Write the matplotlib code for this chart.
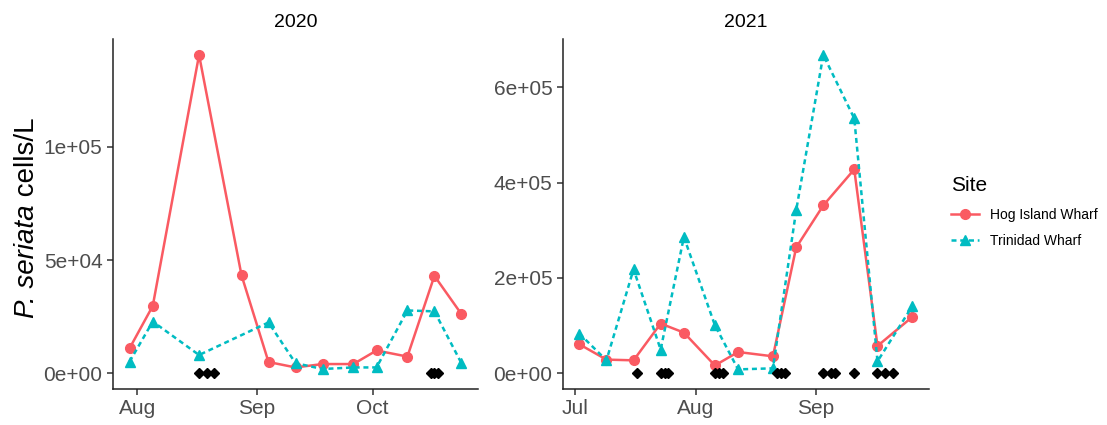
import numpy as np
import matplotlib
matplotlib.use("Agg")
import matplotlib.pyplot as plt
import matplotlib.dates as mdates
from matplotlib.lines import Line2D

plt.rcParams['font.family'] = ['Liberation Sans', 'DejaVu Sans']

# ---- data ----
hog_dates_2020 = np.array(['2020-07-30', '2020-08-05', '2020-08-17', '2020-08-28', '2020-09-04', '2020-09-11',
                           '2020-09-18', '2020-09-26', '2020-10-02', '2020-10-10', '2020-10-17', '2020-10-24'],
                          dtype='datetime64[D]')
hog_vals_2020 = [11000, 29700, 140700, 43300, 4900, 2500, 4000, 4000, 10000, 7300, 43000, 26100]

trin_dates_2020 = np.array(['2020-07-30', '2020-08-05', '2020-08-17', '2020-09-04', '2020-09-11', '2020-09-18',
                            '2020-09-26', '2020-10-02', '2020-10-10', '2020-10-17', '2020-10-24'],
                           dtype='datetime64[D]')
trin_vals_2020 = [5100, 22800, 8000, 22400, 4400, 1800, 2500, 2500, 27700, 27300, 4400]

toxin_dates_2020 = np.array(['2020-08-17', '2020-08-19', '2020-08-21', '2020-10-16', '2020-10-17', '2020-10-18'],
                            dtype='datetime64[D]')

dates_2021 = np.array(['2021-07-02', '2021-07-09', '2021-07-16', '2021-07-23', '2021-07-29', '2021-08-06',
                       '2021-08-12', '2021-08-21', '2021-08-27', '2021-09-03', '2021-09-11', '2021-09-17',
                       '2021-09-26'], dtype='datetime64[D]')
hog_vals_2021 = [60500, 28300, 26800, 104000, 85000, 16000, 44300, 35200, 263700, 352000, 427700, 57000, 118000]
trin_vals_2021 = [83000, 26800, 218000, 49400, 285700, 100600, 7800, 10000, 341800, 668000, 534700, 24700, 140700]

toxin_dates_2021 = np.array(['2021-07-17', '2021-07-23', '2021-07-24', '2021-07-25', '2021-08-06', '2021-08-07',
                             '2021-08-08', '2021-08-22', '2021-08-23', '2021-08-24', '2021-09-03', '2021-09-05',
                             '2021-09-06', '2021-09-11', '2021-09-17', '2021-09-19', '2021-09-21'],
                            dtype='datetime64[D]')

sites = ['Hog Island Wharf', 'Trinidad Wharf']
red = '#FA5A62'
teal = '#00BCC2'
tick_col = '#4D4D4D'
dash = (0, (2.0, 1.5))

fig = plt.figure(figsize=(11.07, 4.25), dpi=100)
ax1 = fig.add_axes([0.1021, 0.0847, 0.3297, 0.8235])
ax2 = fig.add_axes([0.5083, 0.0847, 0.3309, 0.8235])


def panel(ax, title, hd, hv, td, tv, toxd, ystep):
    ax.plot(hd, hv, color=red, lw=1.8, marker='o', ms=7, zorder=3)
    ax.plot(td, tv, color=teal, lw=1.8, ls=dash, marker='^', ms=7.5, zorder=4)
    ax.plot(toxd, np.zeros(len(toxd)), ls='none', marker='D', ms=5.5, color='black', zorder=5)

    # ggplot-style 5% expansion
    alld = np.concatenate([hd, td, toxd]).astype(float)
    x0, x1 = alld.min(), alld.max()
    pad = (x1 - x0) * 0.05
    ax.set_xlim(x0 - pad, x1 + pad)
    ymax = max(max(hv), max(tv))
    ax.set_ylim(-ymax * 0.05, ymax * 1.05)
    ax.yaxis.set_major_locator(plt.MultipleLocator(ystep))
    ax.yaxis.set_major_formatter(plt.FuncFormatter(lambda v, p: f"{v:.0e}"))
    ax.xaxis.set_major_locator(mdates.MonthLocator())
    ax.xaxis.set_major_formatter(mdates.DateFormatter('%b'))

    for s in ['top', 'right']:
        ax.spines[s].set_visible(False)
    for s in ['left', 'bottom']:
        ax.spines[s].set_linewidth(1.1)
        ax.spines[s].set_color('#222222')
    ax.tick_params(labelsize=15, colors=tick_col, length=4, width=1.1)
    ax.tick_params(axis='both', color='#333333')
    ax.set_title(title, fontsize=14, pad=9)


panel(ax1, '2020', hog_dates_2020, hog_vals_2020, trin_dates_2020, trin_vals_2020, toxin_dates_2020, 50000)
panel(ax2, '2021', dates_2021, hog_vals_2021, dates_2021, trin_vals_2021, toxin_dates_2021, 200000)

# y label: italic species name followed by plain text, laid out bottom-to-top
renderer = fig.canvas.get_renderer()
lab_x, lab_y0 = 0.024, 107 / 425
t1 = fig.text(lab_x, lab_y0, "P. seriata", rotation=90, fontsize=20, style='italic',
              ha='center', va='bottom')
h1 = t1.get_window_extent(renderer).height / fig.bbox.height
fig.text(lab_x, lab_y0 + h1, "\u00a0cells/L", rotation=90, fontsize=20, ha='center', va='bottom')

handles = [Line2D([], [], color=red, lw=1.8, marker='o', ms=7),
           Line2D([], [], color=teal, lw=1.8, ls=dash, marker='^', ms=7.5)]
leg = fig.legend(handles, sites, title='Site', loc='upper left', bbox_to_anchor=(0.848, 0.615),
                 frameon=False, fontsize=10, title_fontsize=15, handlelength=2.0, labelspacing=0.9)
leg._legend_box.align = 'left'

fig.savefig('out.png', dpi=100)
